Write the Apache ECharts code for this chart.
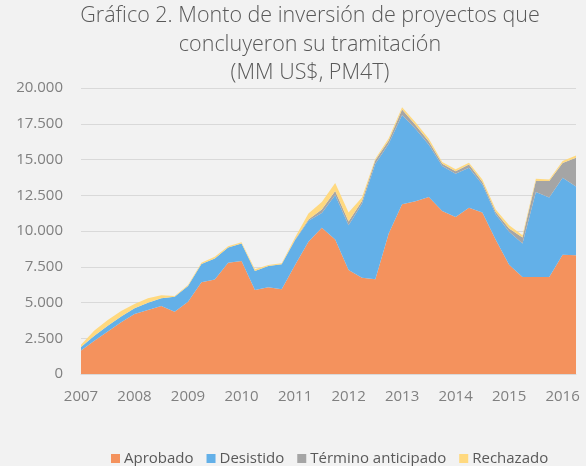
<!DOCTYPE html>
<html>
<head>
<meta charset="utf-8">
<script src="https://cdn.jsdelivr.net/npm/echarts@6/dist/echarts.min.js"></script>
<style>
  html, body { margin: 0; padding: 0; background: #f2f2f2; }
  #chart { width: 586px; height: 466px; }
</style>
</head>
<body>
<div id="chart"></div>
<script>
// años del eje x (datos trimestrales, 2016 solo hasta el 2do trimestre)
const years = ['2007', '2008', '2009', '2010', '2011', '2012', '2013', '2014', '2015', '2016'];
const quartersPerYear = [4, 4, 4, 4, 4, 4, 4, 4, 4, 2];

// MM US$, promedio móvil 4 trimestres
const aprobado = [1650, 2320, 2970, 3620, 4200, 4480, 4760, 4360, 5060, 6410,
  6600, 7780, 7900, 5880, 6060, 5920, 7620, 9240, 10220, 9410,
  7270, 6730, 6620, 9830, 11870, 12080, 12380, 11400, 10980, 11620,
  11300, 9380, 7640, 6780, 6780, 6780, 8340, 8300];
const desistido = [230, 350, 400, 400, 400, 510, 540, 1050, 1090, 1280,
  1480, 1070, 1230, 1320, 1490, 1750, 1740, 1470, 1040, 3110,
  3130, 5170, 8080, 6270, 6250, 5070, 3650, 3140, 3030, 2800,
  1950, 1790, 2300, 2350, 5950, 5560, 5390, 4820];
const termino = [0, 0, 0, 0, 0, 0, 0, 0, 0, 0,
  0, 0, 0, 0, 0, 0, 40, 90, 240, 280,
  260, 200, 240, 230, 370, 270, 230, 160, 160, 230,
  170, 160, 230, 420, 760, 1150, 1020, 2000];
const rechazado = [160, 370, 410, 390, 300, 310, 200, 50, 70, 90,
  120, 90, 90, 120, 70, 70, 150, 420, 530, 560,
  640, 250, 110, 160, 160, 180, 190, 120, 140, 130,
  180, 170, 240, 160, 170, 120, 140, 160];

const seriesNames = ['Aprobado', 'Desistido', 'Término anticipado', 'Rechazado'];
const seriesColors = ['#f4925d', '#63b0e8', '#a5a5a5', '#ffd97f'];

const categories = [];
years.forEach((y, i) => {
  for (let q = 1; q <= quartersPerYear[i]; q++) {
    categories.push(y + '-T' + q);
  }
});

function miles(v) {
  return String(v).replace(/\B(?=(\d{3})+(?!\d))/g, '.');
}

const font = "'Open Sans', 'Noto Sans', sans-serif";

const chart = echarts.init(document.getElementById('chart'));
chart.setOption({
  backgroundColor: '#f2f2f2',
  animation: false,
  title: {
    text: 'Gráfico 2. Monto de inversión de proyectos que\nconcluyeron su tramitación\n(MM US$, PM4T)',
    left: 310,
    top: 2,
    textAlign: 'center',
    padding: 0,
    textStyle: {
      fontFamily: font,
      fontSize: 21.5,
      fontWeight: 300,
      color: '#595959',
      lineHeight: 28.5,
    },
  },
  legend: {
    data: seriesNames,
    left: 106,
    top: 446,
    itemWidth: 9,
    itemHeight: 9,
    itemGap: 13,
    icon: 'rect',
    textStyle: {
      fontFamily: font,
      fontSize: 15,
      color: '#595959',
      padding: [0, 0, 0, -1],
    },
  },
  grid: {
    left: 81,
    right: 10,
    top: 88,
    bottom: 92,
  },
  xAxis: {
    type: 'category',
    boundaryGap: false,
    data: categories,
    axisLine: { show: true, lineStyle: { color: '#d9d9d9', width: 1 } },
    axisTick: { show: false },
    axisLabel: {
      interval: 3,
      margin: 15,
      fontFamily: font,
      fontSize: 15,
      color: '#808080',
      formatter: (v) => v.slice(0, 4),
    },
  },
  yAxis: {
    type: 'value',
    min: 0,
    max: 20000,
    interval: 2500,
    axisLine: { show: false },
    axisTick: { show: false },
    splitLine: { lineStyle: { color: '#d9d9d9', width: 1 } },
    axisLabel: {
      margin: 18,
      fontFamily: font,
      fontSize: 15,
      color: '#808080',
      formatter: miles,
    },
  },
  series: [aprobado, desistido, termino, rechazado].map((d, i) => ({
    name: seriesNames[i],
    type: 'line',
    stack: 'total',
    data: d,
    symbol: 'none',
    lineStyle: { width: 0 },
    areaStyle: { color: seriesColors[i], opacity: 1 },
    itemStyle: { color: seriesColors[i] },
  })),
});
</script>
</body>
</html>
